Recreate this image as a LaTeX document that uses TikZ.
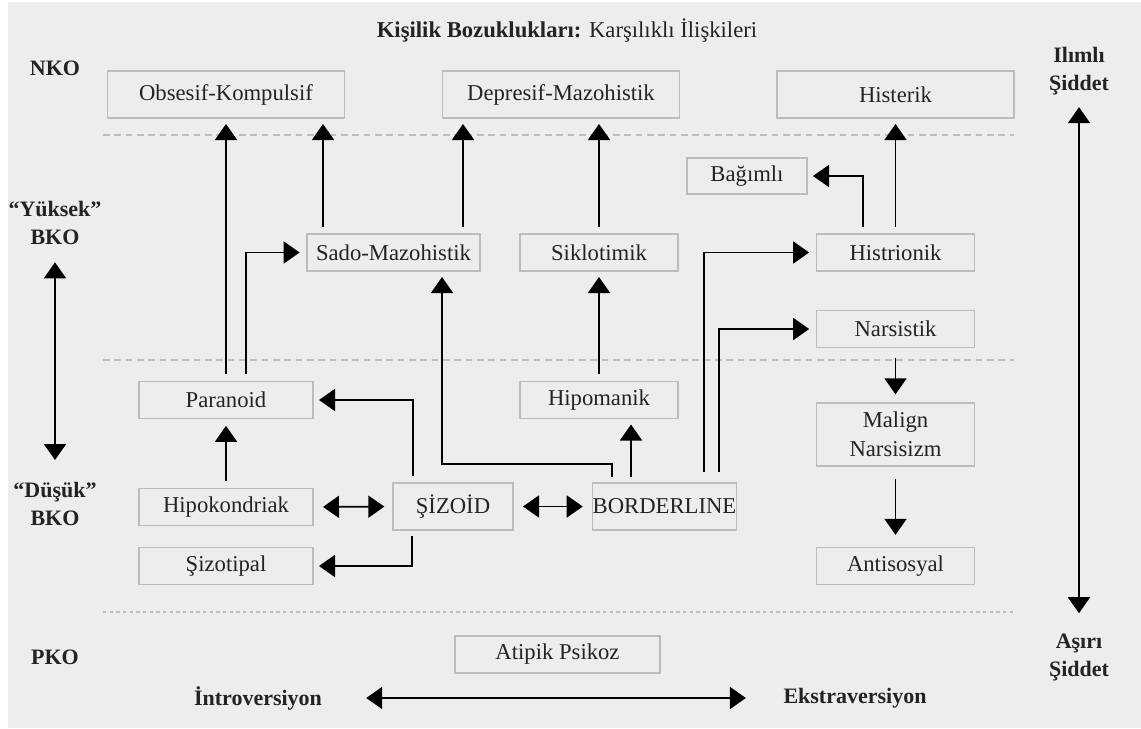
\documentclass[tikz,border=0pt]{standalone}
\usepackage{fontspec}
\setmainfont{Liberation Serif}
\usepackage{tikz}
\usetikzlibrary{arrows.meta}

\definecolor{zemin}{RGB}{237,237,237}
\definecolor{kenar}{RGB}{188,188,188}
\definecolor{kesik}{RGB}{190,190,190}
\definecolor{yazi}{RGB}{35,35,35}

\tikzset{
  kutu/.style={draw=kenar, line width=1pt, text=yazi, font=\fontsize{17}{20}\selectfont, inner sep=0pt, align=center, minimum height=27.75pt},
  buyukkutu/.style={kutu, minimum height=35.25pt},
  etiket/.style={text=yazi, font=\bfseries\fontsize{16.5}{21}\selectfont, align=center, inner sep=1pt},
  ucu/.tip={Triangle[width=16.5pt,length=12pt]},
  ok/.style={draw=black, line width=1.3pt, -ucu},
  ciftok/.style={draw=black, line width=1.3pt, ucu-ucu},
  ayrac/.style={draw=kesik, line width=1pt, dash pattern=on 5pt off 3.5pt},
}

\begin{document}
\begin{tikzpicture}[x=0.75pt,y=0.75pt,yscale=-1,xscale=1]
    \useasboundingbox (0,0) rectangle (1141,728);
    \fill[white] (0,0) rectangle (1141,728);
    \fill[zemin] (8,2) rectangle (1141,728);

    % baslik ve yan etiketler
    \draw (567,31) node [text=yazi, font=\fontsize{17}{20}\selectfont] (baslik) {\textbf{Kişilik Bozuklukları:} Karşılıklı İlişkileri};
    \draw (55,68) node [etiket] (nko) {NKO};
    \draw (55,223) node [etiket] (yuksek) {“Yüksek”\\BKO};
    \draw (55,504) node [etiket] (dusuk) {“Düşük”\\BKO};
    \draw (55,657) node [etiket] (pko) {PKO};
    \draw (1079,71) node [etiket] (ilimli) {Ilımlı\\Şiddet};
    \draw (1079,657) node [etiket] (asiri) {Aşırı\\Şiddet};
    \draw (258,698) node [etiket] (intro) {İntroversiyon};
    \draw (855,698) node [etiket] (ekstra) {Ekstraversiyon};

    % ayrac cizgileri
    \draw [ayrac] (103,135) -- (1014,135);
    \draw [ayrac] (103,360) -- (1014,360);
    \draw [ayrac, dash pattern=on 2.5pt off 2.5pt] (103,612) -- (1014,612);

    % kutular
    \draw (226,94.5) node [buyukkutu, minimum width=177.75pt] (obsesif) {Obsesif-Kompulsif};
    \draw (561,94.5) node [buyukkutu, minimum width=177.75pt] (depresif) {Depresif-Mazohistik};
    \draw (895.5,94.5) node [buyukkutu, minimum width=177.75pt] (histerik) {Histerik};
    \draw (747,176) node [kutu, minimum width=90pt, minimum height=27pt] (bagimli) {Bağımlı};
    \draw (393.5,252.5) node [kutu, minimum width=129.75pt] (sado) {Sado-Mazohistik};
    \draw (599,252.5) node [kutu, minimum width=118.5pt] (siklo) {Siklotimik};
    \draw (895.5,252.5) node [kutu, minimum width=118.5pt] (histrionik) {Histrionik};
    \draw (895.5,329) node [kutu, minimum width=118.5pt] (narsistik) {Narsistik};
    \draw (226,400) node [kutu, minimum width=130.5pt] (paranoid) {Paranoid};
    \draw (599,400) node [kutu, minimum width=118.5pt] (hipomanik) {Hipomanik};
    \draw (895.5,434.5) node [kutu, minimum width=118.5pt, minimum height=47.25pt, font=\fontsize{17}{22}\selectfont] (malign) {Malign\\Narsisizm};
    \draw (226,507) node [kutu, minimum width=130.5pt] (hipokondriak) {Hipokondriak};
    \draw (453,506.5) node [buyukkutu, minimum width=90pt] (sizoid) {ŞİZOİD};
    \draw (664.5,506.5) node [buyukkutu, minimum width=107.25pt] (borderline) {BORDERLINE};
    \draw (226,566) node [kutu, minimum width=130.5pt] (sizotipal) {Şizotipal};
    \draw (895.5,566) node [kutu, minimum width=118.5pt] (antisosyal) {Antisosyal};
    \draw (557.5,654.5) node [kutu, minimum width=153.75pt] (atipik) {Atipik Psikoz};

    % oklar
    \draw [ok, shorten <=5pt, shorten >=4pt] (paranoid.north) -- (paranoid.north |- obsesif.south);
    \draw [ok, shorten <=5pt, shorten >=5pt] (246,0 |- paranoid.north) |- (sado.west);
    \draw [ok, shorten <=5pt, shorten >=4pt] (323,0 |- sado.north) -- (323,0 |- obsesif.south);
    \draw [ok, shorten <=5pt, shorten >=4pt] (463,0 |- sado.north) -- (463,0 |- depresif.south);
    \draw [ok, shorten <=5pt, shorten >=4pt] (siklo.north) -- (siklo.north |- depresif.south);
    \draw [ok, shorten <=5pt, shorten >=4pt] (hipomanik.north) -- (siklo.south);
    \draw [ok, shorten <=5pt, shorten >=4pt] (histrionik.north) -- (histerik.south);
    \draw [ok, shorten <=5pt, shorten >=4pt] (863,0 |- histrionik.north) |- (bagimli.east);
    \draw [ok, shorten <=7pt, shorten >=6pt] (narsistik.south) -- (malign.north);
    \draw [ok, shorten <=9pt, shorten >=9pt] (malign.south) -- (antisosyal.north);
    \draw [ok, shorten <=5pt, shorten >=5pt] (hipokondriak.north) -- (paranoid.south);
    \draw [ciftok, shorten <=7pt, shorten >=6pt] (hipokondriak.east) -- (sizoid.west);
    \draw [ciftok, shorten <=7pt, shorten >=7pt] (sizoid.east) -- (borderline.west);
    \draw [ok, shorten <=5pt, shorten >=4pt] (413,0 |- sizoid.north) |- (paranoid.east);
    \draw [ok, shorten <=4pt, shorten >=4pt] (412,0 |- sizoid.south) |- (sizotipal.east);
    \draw [ok, shorten <=4pt, shorten >=4pt] (612,0 |- borderline.north) -- (612,464) -| (442,0 |- sado.south);
    \draw [ok, shorten <=4pt, shorten >=4pt] (631,0 |- borderline.north) -- (631,0 |- hipomanik.south);
    \draw [ok, shorten <=8pt, shorten >=5pt] (704,0 |- borderline.north) |- (histrionik.west);
    \draw [ok, shorten <=8pt, shorten >=5pt] (719,0 |- borderline.north) |- (narsistik.west);

    % eksenler
    \draw [ciftok, shorten <=12pt, shorten >=15.5pt] (yuksek.south) -- (dusuk.north);
    \draw [ciftok, shorten <=8pt, shorten >=14pt] (ilimli.south) -- (asiri.north);
    \draw [ciftok, shorten <=32pt, shorten >=27pt] (intro.east) -- (ekstra.west);

\end{tikzpicture}
\end{document}
